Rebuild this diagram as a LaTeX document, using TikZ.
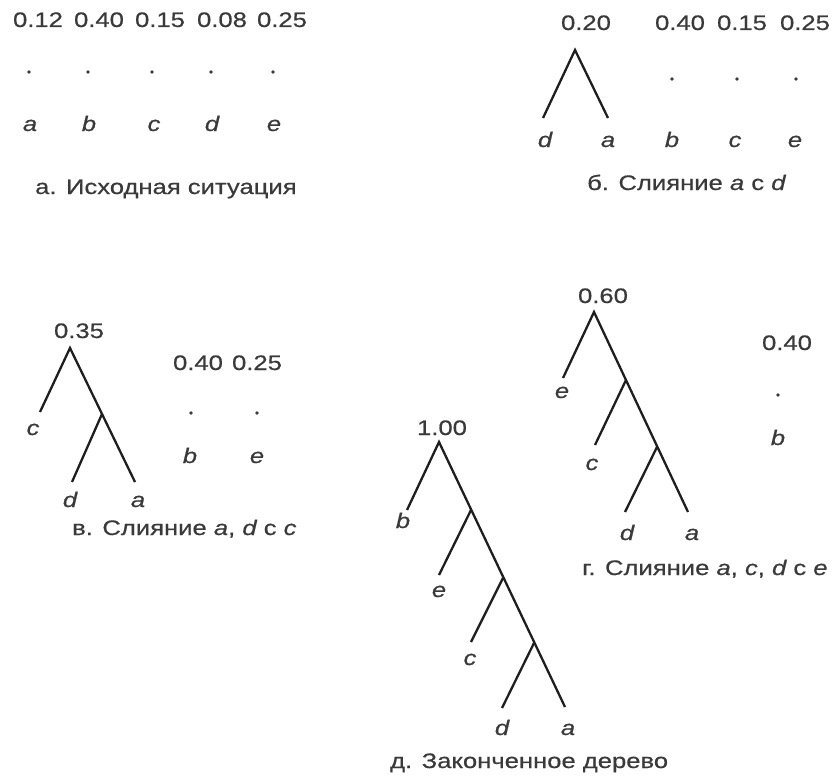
\documentclass[tikz,border=0pt]{standalone}
\usepackage{fontspec}
\setmainfont{Liberation Sans}[FakeStretch=1.22,FakeBold=0.6]
\definecolor{txt}{HTML}{3A3A3A}
\definecolor{ln}{HTML}{1E1E1E}
\definecolor{dotc}{HTML}{3A3A3A}
\begin{document}
\fontsize{21}{25}\selectfont
\begin{tikzpicture}[x=1pt,y=-1pt,
  num/.style={anchor=base,inner sep=0pt,text=txt},
  lab/.style={anchor=base,inner sep=0pt,text=txt,font=\itshape},
  captxt/.style={anchor=base west,inner sep=0pt,text=txt},
  br/.style={line width=2.3pt,draw=ln},
  dotmark/.style={circle,fill=dotc,draw=none,inner sep=0pt,minimum size=3.6pt}]
\useasboundingbox (0,0) rectangle (834,776);

% ---------- panel a ----------
\node[num] (an1) at (38,27) {0.12};
\node[num] (an2) at (99,27) {0.40};
\node[num] (an3) at (160,27) {0.15};
\node[num] (an4) at (222,27) {0.08};
\node[num] (an5) at (282,27) {0.25};
\node[dotmark] (ad1) at (29,72) {};
\node[dotmark] (ad2) at (88,72) {};
\node[dotmark] (ad3) at (152,72) {};
\node[dotmark] (ad4) at (211,72) {};
\node[dotmark] (ad5) at (273,72) {};
\node[lab] (al1) at (30,131) {a};
\node[lab] (al2) at (89,131) {b};
\node[lab] (al3) at (154,131) {c};
\node[lab] (al4) at (212,131) {d};
\node[lab] (al5) at (274,131) {e};
\node[captxt] (capa) at (35,194) {а. Исходная ситуация};

% ---------- panel b ----------
\node[num] (bn1) at (586,30) {0.20};
\node[num] (bn2) at (680,30) {0.40};
\node[num] (bn3) at (742,30) {0.15};
\node[num] (bn4) at (805,30) {0.25};
\coordinate (b0) at (575,50);
\coordinate (bd) at (543,118);
\coordinate (ba) at (608,118);
\draw[br] (bd) -- (b0) -- (ba);
\node[dotmark] (bd2) at (672,79) {};
\node[dotmark] (bd3) at (737,79) {};
\node[dotmark] (bd4) at (796,79) {};
\node[lab] (bl1) at (545,147) {d};
\node[lab] (bl2) at (608,147) {a};
\node[lab] (bl3) at (672,147) {b};
\node[lab] (bl4) at (735,147) {c};
\node[lab] (bl5) at (795,147) {e};
\node[captxt] (capb) at (587,190) {б. Слияние {\itshape a} с {\itshape d}};

% ---------- panel v ----------
\node[num] (vn1) at (79,338) {0.35};
\node[num] (vn2) at (198,370) {0.40};
\node[num] (vn3) at (257,370) {0.25};
\coordinate (v0) at (70,348);
\coordinate (vc) at (40,412);
\coordinate (v1) at (102,414);
\coordinate (vd) at (72,482);
\coordinate (va) at (135,482);
\draw[br] (vc) -- (v0) -- (va);
\draw[br] (v1) -- (vd);
\node[lab] (vl1) at (33,435) {c};
\node[lab] (vl2) at (70,507) {d};
\node[lab] (vl3) at (138,507) {a};
\node[dotmark] (vd1) at (191,413) {};
\node[dotmark] (vd2) at (257,413) {};
\node[lab] (vl4) at (190,463) {b};
\node[lab] (vl5) at (257,463) {e};
\node[captxt] (capv) at (72,535) {в. Слияние {\itshape a}, {\itshape d} с {\itshape c}};

% ---------- panel g ----------
\node[num] (gn1) at (603,303) {0.60};
\node[num] (gn2) at (787,350) {0.40};
\coordinate (g0) at (594,312);
\coordinate (ge) at (563,378);
\coordinate (g1) at (626,380);
\coordinate (gc) at (595,445);
\coordinate (g2) at (657,447);
\coordinate (gd) at (625,512);
\coordinate (ga) at (688,512);
\draw[br] (ge) -- (g0) -- (ga);
\draw[br] (g1) -- (gc);
\draw[br] (g2) -- (gd);
\node[lab] (gl1) at (562,398) {e};
\node[lab] (gl2) at (592,470) {c};
\node[lab] (gl3) at (627,540) {d};
\node[lab] (gl4) at (692,540) {a};
\node[dotmark] (gd1) at (778,395) {};
\node[lab] (gl5) at (778,445) {b};
\node[captxt] (capg) at (582,575) {г. Слияние {\itshape a}, {\itshape c}, {\itshape d} с {\itshape e}};

% ---------- panel d ----------
\node[num] (dn1) at (442,435) {1.00};
\coordinate (d0) at (439,442);
\coordinate (db) at (407,510);
\coordinate (d1) at (471,510);
\coordinate (de) at (439,575);
\coordinate (d2) at (503,578);
\coordinate (dc) at (471,642);
\coordinate (d3) at (534,643);
\coordinate (dd) at (502,708);
\coordinate (da) at (565,707);
\draw[br] (db) -- (d0) -- (da);
\draw[br] (d1) -- (de);
\draw[br] (d2) -- (dc);
\draw[br] (d3) -- (dd);
\node[lab] (dl1) at (403,528) {b};
\node[lab] (dl2) at (439,597) {e};
\node[lab] (dl3) at (470,665) {c};
\node[lab] (dl4) at (502,735) {d};
\node[lab] (dl5) at (568,735) {a};
\node[captxt] (capd) at (390,768) {д. Законченное дерево};
\end{tikzpicture}
\end{document}
